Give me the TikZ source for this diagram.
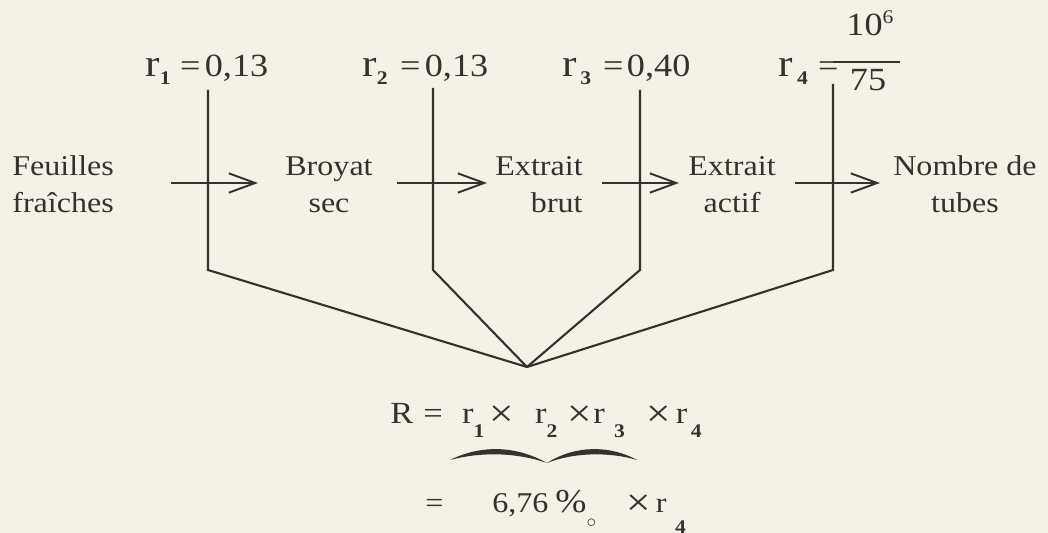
\documentclass[tikz,border=0pt]{standalone}
\usepackage{fontspec}
\setmainfont{Liberation Serif}[FakeStretch=1.12]
\usetikzlibrary{arrows.meta, positioning}
\definecolor{paper}{RGB}{244,242,231}
\definecolor{ink}{RGB}{52,50,45}
% subscript index, lowered by the optional amount
\newcommand\rsub[2][4.5pt]{\raisebox{-#1}{\fontsize{11}{11}\selectfont\bfseries #2}}
% tall r of the yield labels
\newcommand\rbig{{\fontsize{22}{22}\selectfont r}}
% large multiplication sign
\newcommand\tms{\raisebox{-2pt}{\fontsize{22}{20}\selectfont ×}}
\tikzset{
  % Stage of the extraction chain
  stagetxt/.style={
    inner sep=0pt, text=ink, font=\fontsize{16.3}{21.5}\selectfont
  },
  % Yield label
  yieldlbl/.style={
    inner sep=0pt, text=ink, font=\fontsize{18.4}{20}\selectfont, anchor=base west
  },
  % Product formula
  formula/.style={
    inner sep=0pt, text=ink, anchor=base west
  },
  % Arrow between stages
  arr/.style={
    -{Straight Barb[length=15pt,width=11pt]}, color=ink, line width=1.1pt
  },
  % Line from a yield down to the product
  yieldline/.style={
    color=ink, line width=1.2pt, line join=miter
  },
}

\begin{document}
\begin{tikzpicture}[x=0.02cm, y=-0.02cm]

\fill[paper] (0,0) rectangle (1048,533);
\useasboundingbox (0,0) rectangle (1048,533);

%% ── STAGES ───────────────────────────────────────────────────────────────

\node[stagetxt, align=left, anchor=base west] (feuilles) at (12,213)  {Feuilles\\fraîches};
\node[stagetxt, align=center, anchor=base]    (broyat)   at (329,213) {Broyat\\sec};
\node[stagetxt, align=right, anchor=base east] (brut)    at (583,213) {Extrait\\brut};
\node[stagetxt, align=center, anchor=base]    (actif)    at (732,213) {Extrait\\actif};
\node[stagetxt, align=center, anchor=base]    (tubes)    at (965,213) {Nombre de\\tubes};

%% ── YIELDS ───────────────────────────────────────────────────────────────

\node[yieldlbl] (r1) at (145,77) {\rbig\rsub{1}\hspace{5.4pt}=\hspace{2.5pt}0,13};
\node[yieldlbl] (r2) at (362,77) {\rbig\rsub{2}\hspace{7.1pt}=\hspace{2.5pt}0,13};
\node[yieldlbl] (r3) at (562,77) {\rbig\hspace{2pt}\rsub{3}\hspace{6.8pt}=\hspace{2pt}0,40};
\node[yieldlbl] (r4) at (778,77) {\rbig\hspace{2.5pt}\rsub{4}\hspace{5.7pt}=};
\node[yieldlbl, anchor=base] (r4num) at (870,36) {10\raisebox{7pt}{\fontsize{11}{11}\selectfont 6}};
\node[yieldlbl, anchor=base] (r4den) at (868,91) {75};
\draw[ink, line width=0.9pt] (833,62) -- (900,62);

%% ── PRODUCT ──────────────────────────────────────────────────────────────

\node[formula, font=\fontsize{17.5}{20}\selectfont] (prod) at (390,423)
  {R\hspace{5.7pt}=\hspace{11pt}r\rsub[8.5pt]{1}\hspace{3pt}\tms\hspace{12pt}r\rsub[8.5pt]{2}\hspace{6pt}\tms\hspace{0.5pt}r\hspace{5.4pt}\rsub[8.5pt]{3}\hspace{12pt}\tms\hspace{3pt}r\hspace{2pt}\rsub[8.5pt]{4}};
\node[formula, font=\fontsize{16.3}{20}\selectfont] (result) at (425,512)
  {=\hspace{27.8pt}6,76\hspace{4pt}{\fontsize{19}{20}\selectfont\%}\raisebox{-9pt}{$\scriptstyle\circ$}\hspace{17pt}\tms\hspace{3pt}r\hspace{5pt}\rsub[12.5pt]{4}};

% brace under r1 x r2 x r3
\fill[ink] (450,460) .. controls (480,445) and (515,445) .. (547,463)
               .. controls (515,452) and (480,452) .. (450,460) -- cycle;
\fill[ink] (547,463) .. controls (575,445) and (610,445) .. (637,460)
               .. controls (610,452) and (575,452) .. (547,463) -- cycle;

%% ── ARROWS ───────────────────────────────────────────────────────────────

\coordinate (row) at (0,183);
\draw[arr, shorten <=1.14cm, shorten >=0.54cm] (feuilles.east |- row) -- (broyat.west |- row);
\draw[arr, shorten <=0.48cm, shorten >=0.16cm] (broyat.east |- row)   -- (brut.west |- row);
\draw[arr, shorten <=0.38cm, shorten >=0.18cm] (brut.east |- row)     -- (actif.west |- row);
\draw[arr, shorten <=0.38cm, shorten >=0.26cm] (actif.east |- row)    -- (tubes.west |- row);

%% ── YIELD LINES ──────────────────────────────────────────────────────────

\coordinate (merge) at (527,367);
\foreach \i/\x/\top in {1/208/90, 2/433/88, 3/640/90, 4/833/84}{
  \coordinate (top\i)  at (\x,\top);
  \coordinate (knee\i) at (\x,270);
}
\draw[yieldline] (top1) -- (knee1) -- (merge);
\draw[yieldline] (top2) -- (knee2) -- (merge);
\draw[yieldline] (top3) -- (knee3) -- (merge);
\draw[yieldline] (top4) -- (knee4) -- (merge);

\end{tikzpicture}
\end{document}
